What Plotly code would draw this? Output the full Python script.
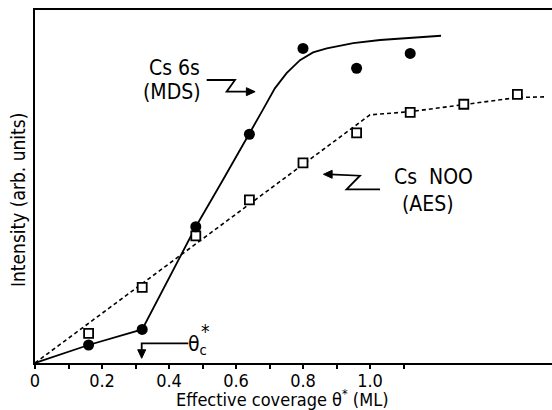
import plotly.graph_objects as go

# ---- data ----
mds_x = [0.16, 0.32, 0.48, 0.64, 0.80, 0.96, 1.12]
mds_y = [0.051, 0.095, 0.386, 0.648, 0.891, 0.835, 0.877]

aes_x = [0.16, 0.32, 0.48, 0.64, 0.80, 0.96, 1.12, 1.28, 1.44]
aes_y = [0.084, 0.214, 0.360, 0.462, 0.567, 0.652, 0.710, 0.733, 0.761]

# guide curves drawn through the points
mds_curve_x = [0.0, 0.16, 0.32, 0.48, 0.56, 0.64, 0.68, 0.716, 0.751, 0.791, 0.830, 0.871, 0.95, 1.03, 1.149, 1.212]
mds_curve_y = [0.0, 0.051, 0.095, 0.386, 0.517, 0.648, 0.717, 0.778, 0.821, 0.858, 0.880, 0.891, 0.906, 0.915, 0.924, 0.927]

aes_curve_x = [0.0, 1.0, 1.12, 1.28, 1.44, 1.52]
aes_curve_y = [0.0, 0.703, 0.712, 0.733, 0.752, 0.754]

label_vals = [0.0, 0.2, 0.4, 0.6, 0.8, 1.0]
label_text = ["0", "0.2", "0.4", "0.6", "0.8", "1.0"]
tick_vals = [0.0, 0.1, 0.2, 0.3, 0.4, 0.5, 0.6, 0.7, 0.8, 0.9, 1.0, 1.1]

FONT = "DejaVu Sans Condensed, DejaVu Sans, sans-serif"

fig = go.Figure()

fig.add_trace(go.Scatter(x=aes_curve_x, y=aes_curve_y, mode="lines",
                         line=dict(color="black", width=1.6, dash="4px,3px"),
                         hoverinfo="skip", showlegend=False))
fig.add_trace(go.Scatter(x=mds_curve_x, y=mds_curve_y, mode="lines",
                         line=dict(color="black", width=1.8),
                         hoverinfo="skip", showlegend=False))
fig.add_trace(go.Scatter(x=aes_x, y=aes_y, mode="markers",
                         marker=dict(symbol="square", size=9, color="white",
                                     line=dict(color="black", width=1.8)),
                         showlegend=False))
fig.add_trace(go.Scatter(x=mds_x, y=mds_y, mode="markers",
                         marker=dict(symbol="circle", size=11, color="black",
                                     line=dict(width=0)),
                         showlegend=False))

# zig-zag leader lines and arrow heads
line_style = dict(type="path", xref="x", yref="y", line=dict(color="black", width=1.8))
head_style = dict(type="path", xref="x", yref="y", fillcolor="black",
                  line=dict(color="black", width=1))
shapes = [
    dict(path="M 0.5125 0.8017 L 0.597 0.8017 L 0.572 0.7686 L 0.64 0.7686", **line_style),
    dict(path="M 0.657 0.7686 L 0.631 0.7799 L 0.631 0.7573 Z", **head_style),
    dict(path="M 1.030 0.4921 L 0.930 0.4921 L 0.970 0.5306 L 0.88 0.5346", **line_style),
    dict(path="M 0.861 0.5346 L 0.887 0.5459 L 0.887 0.5233 Z", **head_style),
    dict(path="M 0.4576 0.0558 L 0.3185 0.0558 L 0.3185 0.03", **line_style),
    dict(path="M 0.3185 0.0133 L 0.3066 0.0375 L 0.3304 0.0375 Z", **head_style),
]

annotations = [
    dict(x=174, y=68, text="Cs 6s", size=21),
    dict(x=172, y=92, text="(MDS)", size=21),
    dict(x=433, y=177, text="Cs  NOO", size=21),
    dict(x=428, y=204, text="(AES)", size=21),
    dict(x=197, y=345, text="θ<sub>c</sub>", size=21),
    dict(x=205, y=331, text="*", size=19),
    dict(x=282, y=398, text="Effective coverage θ<sup>*</sup> (ML)", size=18),
    dict(x=18, y=200, text="Intensity (arb. units)", size=19, textangle=-90),
]

# convert pixel-placed label positions to paper coordinates
L, R, T, B, W, H = 35, 0, 10, 47, 552, 410
pw, ph = W - L - R, H - T - B
ann_list = []
for a in annotations:
    ann_list.append(dict(
        x=(a["x"] - L) / pw, y=(H - B - a["y"]) / ph,
        xref="paper", yref="paper", xanchor="center", yanchor="middle",
        text=a["text"], showarrow=False, textangle=a.get("textangle", 0),
        font=dict(family=FONT, size=a["size"], color="black")))

fig.update_layout(
    width=W, height=H,
    margin=dict(l=L, r=R, t=T, b=B, pad=0),
    paper_bgcolor="white", plot_bgcolor="white",
    shapes=shapes, annotations=ann_list,
    xaxis=dict(range=[0, pw / 335], showgrid=False, zeroline=False,
               showline=True, linecolor="black", linewidth=2, mirror=True,
               tickmode="array", tickvals=label_vals, ticktext=label_text,
               ticks="",
               minor=dict(tickmode="array", tickvals=tick_vals, ticks="outside",
                          ticklen=4, tickwidth=1.5, tickcolor="black"),
               tickfont=dict(family=FONT, size=18, color="black")),
    yaxis=dict(range=[0, 1], showgrid=False, zeroline=False,
               showline=True, linecolor="black", linewidth=2, mirror=False,
               showticklabels=False, ticks=""),
)

fig.write_html("out.html")
